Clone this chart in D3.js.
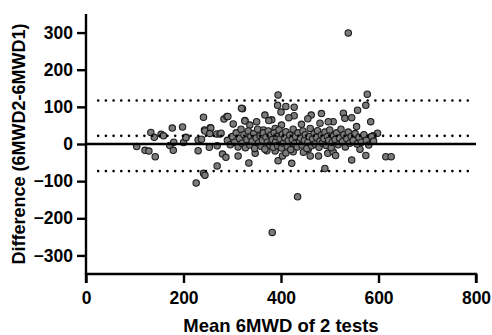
<!DOCTYPE html>
<html>
<head>
<meta charset="utf-8">
<script src="https://cdn.jsdelivr.net/npm/d3@7"></script>
<style>
  body { margin: 0; background: #fff; }
  svg text { font-family: "Liberation Sans", Arial, sans-serif; font-weight: bold; fill: #000; }
</style>
</head>
<body>
<svg id="chart" width="492" height="335"></svg>
<script>
// mean of the two tests (m), difference test2 - test1 (m)
const meanVals = [
  104,121,129,142,133,140,154,159,177,198,172,179,200,205,241,230,230,243,255,253,
  268,275,269,280,287,269,241,244,226,283,289,302,321,326,312,334,347,371,388,394,
  403,410,425,422,446,456,460,477,490,496,507,512,545,562,574,615,626,538,394,393,
  410,427,400,319,291,367,427,416,381,375,350,326,462,455,483,528,531,545,507,497,
  480,442,401,336,364,388,577,574,557,584,555,598,583,566,434,382,180,205,237,244,
  256,254,277,555,566,574,583,589,
  290,296,300,305,308,312,315,318,320,324,327,330,333,336,338,341,344,346,349,352,
  354,357,359,362,364,367,369,372,374,377,379,382,384,386,389,391,393,396,398,401,
  403,405,408,410,413,415,418,420,423,425,428,430,433,435,438,440,443,445,448,450,
  453,455,458,460,463,465,468,470,473,475,478,480,483,485,488,490,493,495,498,500,
  503,505,508,511,514,517,520,523,526,529,532,535,538,541,544,548,552,556,560,565,
  570,575,580,586,590
];
const diffVals = [
  -7,-17,-19,-34,31,18,26,22,43,46,-4,-17,4,18,72,11,-18,38,44,-9,
  27,27,-5,-27,-36,-59,-79,-84,-105,67,74,54,95,63,-32,-51,-25,-18,-19,-45,
  -32,-24,-21,-52,-22,-14,-32,-32,-66,-25,-21,-31,-43,-14,-31,-34,-34,299,132,104,
  101,99,86,96,74,78,76,71,65,63,60,62,78,68,82,83,69,71,60,60,
  56,53,51,51,38,42,134,104,91,60,47,29,15,11,-142,-238,5,17,13,35,
  43,28,29,11,13,15,18,22,
  10,-2,20,5,30,-8,15,40,2,25,-10,12,35,-3,20,8,28,-12,16,40,
  3,22,-6,10,30,-14,18,5,35,-3,24,12,-9,30,6,20,-4,38,14,-11,
  26,2,17,33,-6,9,24,-15,12,40,1,20,-8,30,8,16,-3,35,10,25,
  -12,4,20,42,-5,14,28,0,18,36,-9,8,24,3,15,32,-4,20,10,38,
  -10,5,22,12,30,-2,16,40,6,25,-8,14,32,2,20,10,28,0,18,5,
  25,10,-3,20,8
];
// bias and 95% limits of agreement
const biasLines = [22, 117, -73];
const xTicks = [0, 200, 400, 600, 800];
const yTicks = [-300, -200, -100, 0, 100, 200, 300];

const svg = d3.select('#chart');
const margin = {left: 86, top: 14};
const w = 390, h = 260;

const x = d3.scaleLinear().domain([0, 800]).range([margin.left, margin.left + w]);
const y = d3.scaleLinear().domain([-350, 350]).range([margin.top + h, margin.top]);

const points = meanVals.map((m, i) => ({m: m, d: diffVals[i]}));

svg.append('g').selectAll('circle').data(points).enter().append('circle')
  .attr('cx', d => x(d.m))
  .attr('cy', d => y(d.d))
  .attr('r', 3.2)
  .attr('fill', '#7b7b7b')
  .attr('stroke', '#1c1c1c')
  .attr('stroke-width', 1.1);

// zero line
svg.append('line')
  .attr('x1', x(0)).attr('x2', x(800))
  .attr('y1', y(0)).attr('y2', y(0))
  .attr('stroke', '#000').attr('stroke-width', 2.4);

// dotted bias / LoA lines
svg.append('g').selectAll('line').data(biasLines).enter().append('line')
  .attr('x1', x(25)).attr('x2', x(790))
  .attr('y1', d => y(d)).attr('y2', d => y(d))
  .attr('stroke', '#000')
  .attr('stroke-width', 2.6)
  .attr('stroke-linecap', 'round')
  .attr('stroke-dasharray', '0,7.7');

const xAxis = svg.append('g')
  .attr('transform', `translate(0,${margin.top + h})`)
  .call(d3.axisBottom(x).tickValues(xTicks).tickSize(9).tickPadding(9).tickFormat(d3.format('d')));
const yAxis = svg.append('g')
  .attr('transform', `translate(${margin.left},0)`)
  .call(d3.axisLeft(y).tickValues(yTicks).tickSize(9).tickPadding(4).tickFormat(d3.format('d')));

[xAxis, yAxis].forEach(a => {
  a.select('.domain').attr('stroke', '#000').attr('stroke-width', 2.4);
  a.selectAll('.tick line').attr('stroke', '#000').attr('stroke-width', 2.4);
  a.selectAll('.tick text').style('font-size', '17.5px').attr('fill', '#000');
});
xAxis.select('.domain').attr('d', `M${x(0)},9V0H${x(800)}V9`);
yAxis.select('.domain').attr('d', `M0,${y(350)}V${y(-350)}`);

svg.append('text')
  .attr('x', x(400)).attr('y', 332)
  .attr('text-anchor', 'middle')
  .style('font-size', '18.5px')
  .text('Mean 6MWD of 2 tests');

svg.append('text')
  .attr('transform', `translate(25,${y(0)}) rotate(-90)`)
  .attr('text-anchor', 'middle')
  .style('font-size', '18px')
  .text('Difference (6MWD2-6MWD1)');
</script>
</body>
</html>
